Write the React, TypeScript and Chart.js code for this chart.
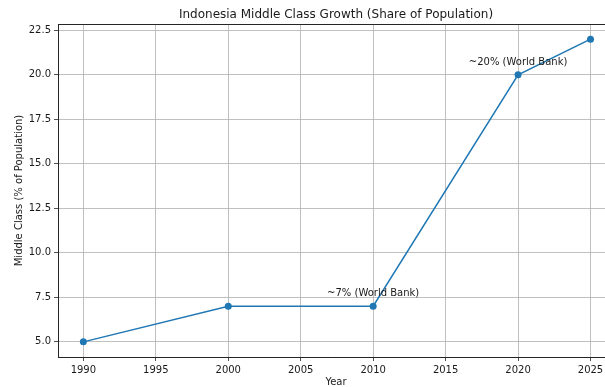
import React, { useEffect, useRef } from "react";
import { Chart, registerables } from "chart.js";

Chart.register(...registerables);

const years = [1990, 2000, 2010, 2020, 2025];
const middleClassShare = [5, 7, 7, 20, 22];
const xTickValues = [1990, 1995, 2000, 2005, 2010, 2015, 2020, 2025];
const yTickValues = [5, 7.5, 10, 12.5, 15, 17.5, 20, 22.5];
const noteYears = [2010, 2020];
const noteValues = [7, 20];
const noteLabels = ["~7% (World Bank)", "~20% (World Bank)"];

const chartTitle = "Indonesia Middle Class Growth (Share of Population)";
const xAxisTitle = "Year";
const yAxisTitle = "Middle Class (% of Population)";

const FONT = "'DejaVu Sans', sans-serif";
const TEXT = "#1a1a1a";

const textPlugin = {
  id: "textPlugin",
  afterDraw(chart: any) {
    const { ctx, chartArea, scales } = chart;
    const xs = scales.x;
    const ys = scales.y;
    ctx.save();
    ctx.strokeStyle = "#262626";
    ctx.lineWidth = 1;
    ctx.beginPath();
    ctx.moveTo(chartArea.left, Math.round(chartArea.top) + 0.5);
    ctx.lineTo(chartArea.right + 20, Math.round(chartArea.top) + 0.5);
    ctx.stroke();

    ctx.fillStyle = TEXT;
    ctx.font = `10px ${FONT}`;
    ctx.textAlign = "center";
    ctx.textBaseline = "alphabetic";
    for (let i = 0; i < noteLabels.length; i++) {
      const px = xs.getPixelForValue(noteYears[i]);
      const py = ys.getPixelForValue(noteValues[i]);
      ctx.fillText(noteLabels[i], px, py - 10);
    }
    const fullCenter = 336;
    ctx.font = `12px ${FONT}`;
    ctx.fillText(chartTitle, fullCenter, chartArea.top - 6);
    ctx.font = `10px ${FONT}`;
    ctx.textBaseline = "middle";
    ctx.fillText(xAxisTitle, fullCenter, 382);
    ctx.translate(19, (chartArea.top + chartArea.bottom) / 2);
    ctx.rotate(-Math.PI / 2);
    ctx.fillText(yAxisTitle, 0, 0);
    ctx.restore();
  },
};

export default function App() {
  const ref = useRef<HTMLCanvasElement>(null);
  useEffect(() => {
    if (!ref.current) return;
    const chart = new Chart(ref.current, {
      type: "line",
      data: {
        datasets: [
          {
            data: years.map((y, i) => ({ x: y, y: middleClassShare[i] })),
            borderColor: "#1f77b4",
            backgroundColor: "#1f77b4",
            borderWidth: 1.5,
            pointRadius: 3.5,
            pointHoverRadius: 3.5,
            pointBorderWidth: 0,
            tension: 0,
            fill: false,
          },
        ],
      },
      options: {
        responsive: false,
        animation: false,
        devicePixelRatio: 1,
        layout: { autoPadding: false, padding: { top: 24, right: 0, left: 0, bottom: 0 } },
        plugins: {
          legend: { display: false },
          tooltip: { enabled: false },
          title: { display: false },
        },
        scales: {
          x: {
            type: "linear",
            min: 1988.25,
            max: 2026.0,
            afterBuildTicks: (s: any) => {
              s.ticks = xTickValues.map((v) => ({ value: v }));
            },
            afterFit: (s: any) => {
              s.height = 30;
              s.paddingLeft = 0;
              s.paddingRight = 0;
            },
            grid: {
              color: "#b0b0b0",
              lineWidth: 0.8,
              drawTicks: true,
              tickLength: 4,
              tickColor: "#262626",
            },
            border: { display: true, color: "#262626", width: 1 },
            ticks: {
              font: { family: FONT, size: 10 },
              color: TEXT,
              padding: 3,
              maxRotation: 0,
              autoSkip: false,
              callback: (v: any) => String(v),
            },
          },
          y: {
            type: "linear",
            min: 4.15,
            max: 22.85,
            afterBuildTicks: (s: any) => {
              s.ticks = yTickValues.map((v) => ({ value: v }));
            },
            afterFit: (s: any) => {
              s.width = 58;
              s.paddingTop = 0;
              s.paddingBottom = 0;
            },
            grid: {
              color: "#b0b0b0",
              lineWidth: 0.8,
              drawTicks: true,
              tickLength: 4,
              tickColor: "#262626",
            },
            border: { display: true, color: "#262626", width: 1 },
            ticks: {
              font: { family: FONT, size: 10 },
              color: TEXT,
              padding: 3,
              autoSkip: false,
              callback: (v: any) => Number(v).toFixed(1),
            },
          },
        },
      },
      plugins: [textPlugin],
    });
    return () => chart.destroy();
  }, []);
  return (
    <div style={{ position: "fixed", left: 0, top: 0, width: 605, height: 387, background: "#fff" }}>
      <canvas ref={ref} width={605} height={387} style={{ display: "block" }} />
    </div>
  );
}
